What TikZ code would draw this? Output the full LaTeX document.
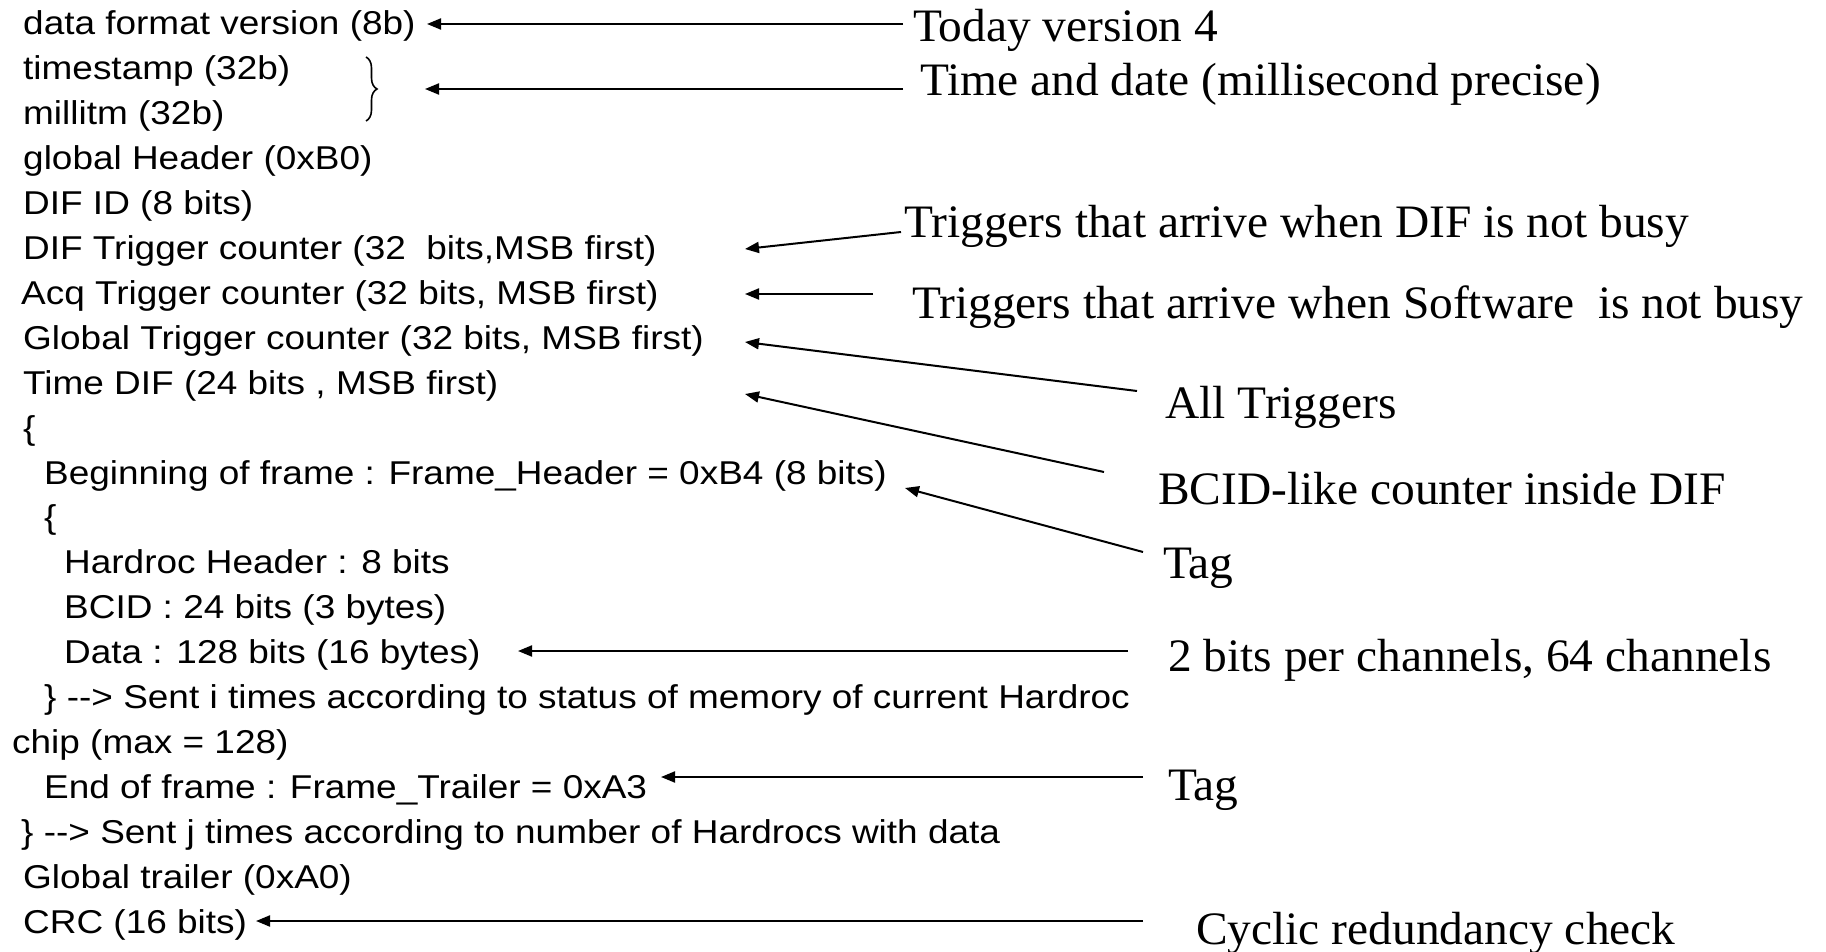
\documentclass[tikz,border=0pt]{standalone}
\usepackage{fontspec}
\usetikzlibrary{arrows.meta,decorations.pathreplacing}
\newfontfamily\lfont[FakeStretch=1.12]{Liberation Sans}
\newfontfamily\rfont[FakeStretch=1.02]{Liberation Serif}
\begin{document}
\begin{tikzpicture}[x=1pt,y=-1pt,
  lt/.style={anchor=base west,inner sep=0pt,font=\lfont\fontsize{33}{38}\selectfont},
  rt/.style={anchor=base west,inner sep=0pt,font=\rfont\fontsize{46.5}{54}\selectfont},
  arr/.style={line width=2pt,-{Triangle[length=14pt,width=11pt]}},
  brc/.style={line width=1.6pt,decorate,decoration={brace,amplitude=11pt}}
]
\useasboundingbox (0,0) rectangle (1826,952);
\fill[white] (0,0) rectangle (1826,952);
% left column
\node[lt] (l0)  at (23,35)    {data format version (8b)};
\node[lt] (l1)  at (23,79.9)  {timestamp (32b)};
\node[lt] (l2)  at (23,124.8) {millitm (32b)};
\node[lt] (l3)  at (23,169.7) {global Header (0xB0)};
\node[lt] (l4)  at (23,214.6) {DIF ID (8 bits)};
\node[lt] (l5)  at (23,259.5) {DIF Trigger counter (32\ \ bits,MSB first)};
\node[lt] (l6)  at (21,304.4) {Acq Trigger counter (32 bits, MSB first)};
\node[lt] (l7)  at (23,349.3) {Global Trigger counter (32 bits, MSB first)};
\node[lt] (l8)  at (23,394.2) {Time DIF (24 bits , MSB first)};
\node[lt] (l9)  at (23,439.1) {\{};
\node[lt] (l10) at (44,484)   {Beginning of frame : Frame\_Header = 0xB4 (8 bits)};
\node[lt] (l11) at (44,528.9) {\{};
\node[lt] (l12) at (64,573.8) {Hardroc Header : 8 bits};
\node[lt] (l13) at (64,618.7) {BCID : 24 bits (3 bytes)};
\node[lt] (l14) at (64,663.6) {Data : 128 bits (16 bytes)};
\node[lt] (l15) at (44,708.5) {\} -{}-{}> Sent i times according to status of memory of current Hardroc};
\node[lt] (l16) at (12,753.4) {chip (max = 128)};
\node[lt] (l17) at (44,798.3) {End of frame : Frame\_Trailer = 0xA3};
\node[lt] (l18) at (21,843.2) {\} -{}-{}> Sent j times according to number of Hardrocs with data};
\node[lt] (l19) at (23,888.1) {Global trailer (0xA0)};
\node[lt] (l20) at (23,933)   {CRC (16 bits)};
% right column
\node[rt] (r1)  at (913,42)   {Today version 4};
\node[rt] (r2)  at (920,96)   {Time and date (millisecond precise)};
\node[rt] (r3)  at (904,238)  {Triggers that arrive when DIF is not busy};
\node[rt] (r4)  at (912,318)  {Triggers that arrive when Software\ \ is not busy};
\node[rt] (r5)  at (1165,418) {All Triggers};
\node[rt] (r6)  at (1158,504) {BCID-like counter inside DIF};
\node[rt] (r7)  at (1163,578) {Tag};
\node[rt] (r8)  at (1168,671) {2 bits per channels, 64 channels};
\node[rt] (r9)  at (1168,800) {Tag};
\node[rt] (r10) at (1196,944) {Cyclic redundancy check};
% brace
\coordinate (bt) at (366,57);
\coordinate (bb) at (366,121);
\draw[brc] (bt) -- (bb);
% arrow ends
\coordinate (h1) at (427,24);   \coordinate (t1) at (903,24);
\coordinate (h2) at (425,89);   \coordinate (t2) at (903,89);
\coordinate (h3) at (745,249);  \coordinate (t3) at (901,232);
\coordinate (h4) at (745,294);  \coordinate (t4) at (873,294);
\coordinate (h5) at (745,342);  \coordinate (t5) at (1137,391);
\coordinate (h6) at (745,394);  \coordinate (t6) at (1104,472);
\coordinate (h7) at (905,488);  \coordinate (t7) at (1143,552);
\coordinate (h8) at (518,651);  \coordinate (t8) at (1128,651);
\coordinate (h9) at (661,777);  \coordinate (t9) at (1143,777);
\coordinate (h10) at (256,921); \coordinate (t10) at (1143,921);
\foreach \i in {1,...,10} {\draw[arr] (t\i) -- (h\i);}
\end{tikzpicture}
\end{document}
